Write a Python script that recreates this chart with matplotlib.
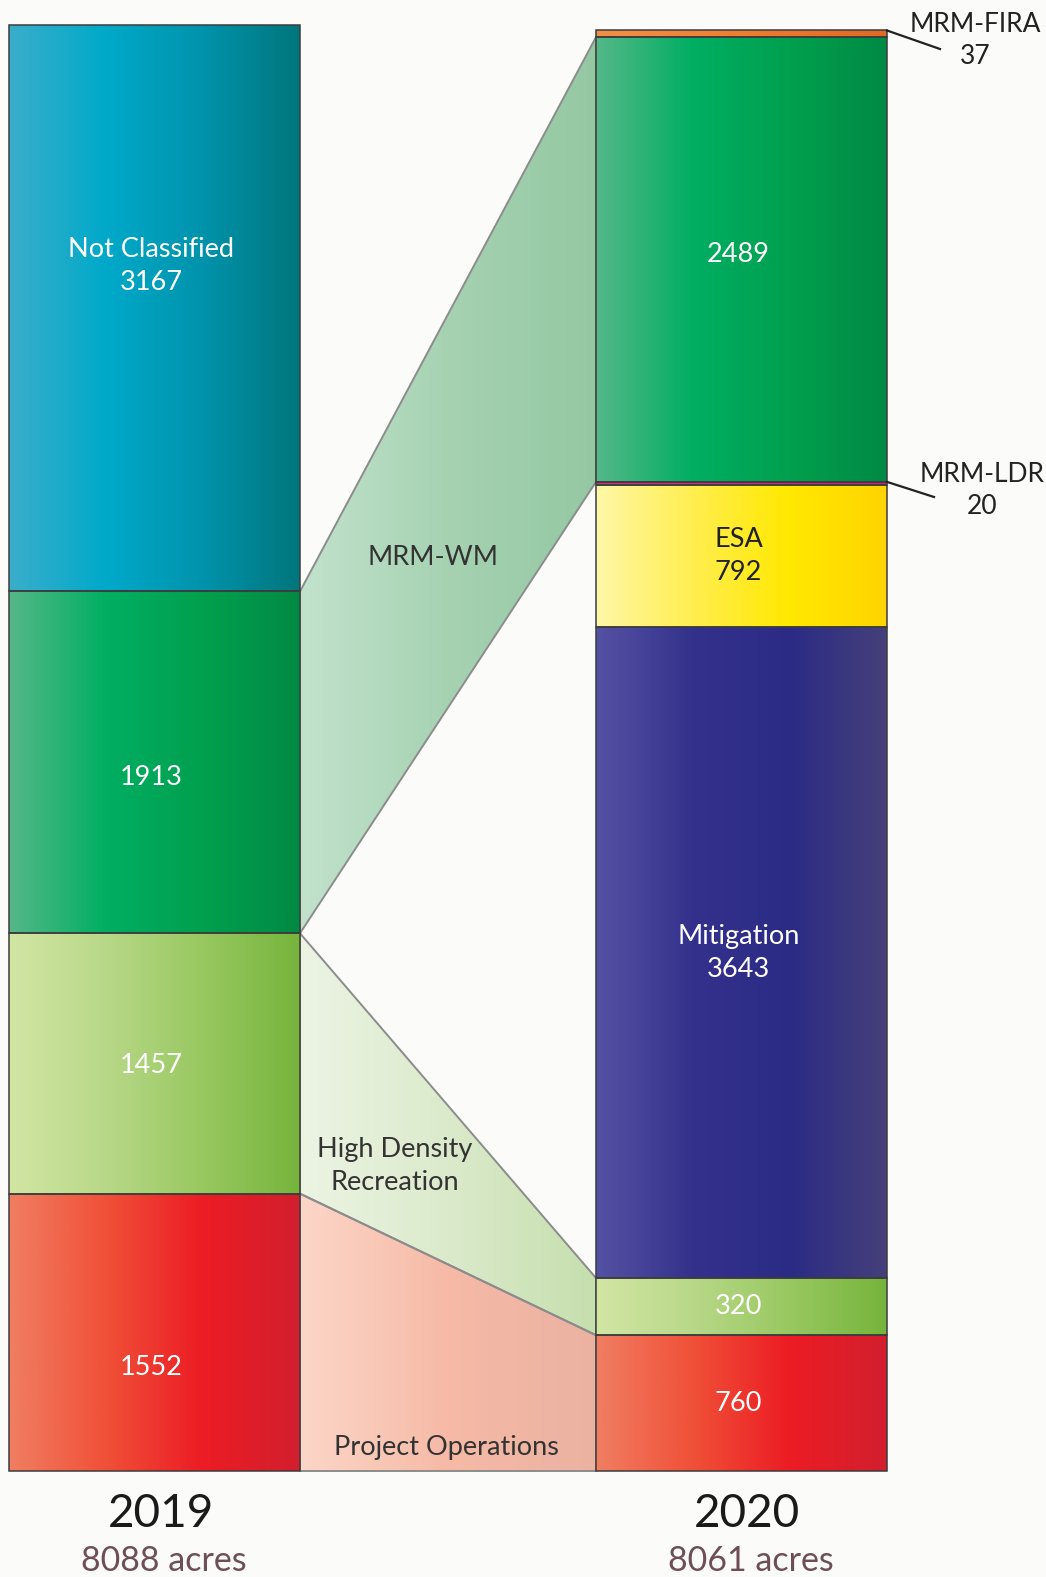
import numpy as np
import matplotlib.pyplot as plt
from matplotlib.colors import LinearSegmentedColormap
from matplotlib.patches import Polygon, Rectangle

plt.rcParams['font.family'] = ['Lato', 'DejaVu Sans']

# data
cats_2019 = ['Project Operations', 'High Density Recreation', 'MRM-WM', 'Not Classified']
acres_2019 = [1552, 1457, 1913, 3167]
cats_2020 = ['Project Operations', 'High Density Recreation', 'Mitigation', 'ESA',
             'MRM-LDR', 'MRM-WM', 'MRM-FIRA']
acres_2020 = [760, 320, 3643, 792, 20, 2489, 37]
total_2019 = 8088
total_2020 = 8061
years = ['2019', '2020']

# gradient stops (left -> right) per category
grad = {
    'Not Classified': ['#3aaecb', '#00a9c9', '#0093ac', '#00767c'],
    'MRM-WM': ['#55b888', '#00ae62', '#00a04e', '#008a45'],
    'High Density Recreation': ['#d2e6a4', '#b8d888', '#98c860', '#76b43c'],
    'Project Operations': ['#f07e62', '#f05038', '#ec1c24', '#d21f2e'],
    'MRM-FIRA': ['#f29048', '#ee7e30', '#e06a24'],
    'MRM-LDR': ['#e8288e', '#d81a80'],
    'ESA': ['#fff7a8', '#ffee50', '#ffe800', '#ffd400'],
    'Mitigation': ['#5552a4', '#34318c', '#2b2b86', '#45407a'],
}
band_grad = {
    'MRM-WM': ['#c2e2cc', '#a6d2b2', '#94c8a2'],
    'High Density Recreation': ['#ecf4e4', '#dbeacb', '#c6dfae'],
    'Project Operations': ['#fcd6c8', '#f6baa6', '#ebb2a2'],
}
# label format, colour, vertical nudge (acres) per bar
txt = {
    ('2019', 'Not Classified'): ('Not Classified\n{}', 'white', 237),
    ('2019', 'MRM-WM'): ('{}', 'white', -85),
    ('2019', 'High Density Recreation'): ('{}', 'white', -10),
    ('2019', 'Project Operations'): ('{}', 'white', -195),
    ('2020', 'MRM-WM'): ('{}', 'white', 30),
    ('2020', 'High Density Recreation'): ('{}', 'white', 0),
    ('2020', 'Project Operations'): ('{}', 'white', 0),
    ('2020', 'ESA'): ('ESA\n{}', '#222222', 0),
    ('2020', 'Mitigation'): ('Mitigation\n{}', 'white', 0),
}

scale = 0.1787  # px per acre
base = 1471
W, H = 1046, 1577
fig = plt.figure(figsize=(W / 100, H / 100), dpi=100)
fig.patch.set_facecolor('#fbfbfa')
ax = fig.add_axes([0, 0, 1, 1])
ax.set_xlim(0, W)
ax.set_ylim(-(H - base) / scale, base / scale)
ax.axis('off')

bars = {'2019': (9, 300), '2020': (596, 887)}
grad_arr = np.linspace(0, 1, 256).reshape(1, -1)
FS = 19.5
LS = 1.4


def py(p):
    return (base - p) / scale


def gradient_fill(stops, x0, x1, y0, y1, clip=None, z=1):
    cmap = LinearSegmentedColormap.from_list('g', stops)
    im = ax.imshow(grad_arr, cmap=cmap, extent=[x0, x1, y0, y1], aspect='auto',
                   interpolation='bicubic', zorder=z)
    if clip is not None:
        im.set_clip_path(clip)


def stack(cats, vals, x0, x1, key):
    bottoms = np.concatenate([[0], np.cumsum(vals)[:-1]])
    segs = {}
    for c, v, b in zip(cats, vals, bottoms):
        gradient_fill(grad[c], x0, x1, b, b + v, z=2)
        ax.add_patch(Rectangle((x0, b), x1 - x0, v, fill=False, ec='#3c3c3c', lw=1.1, zorder=3))
        segs[c] = (b, b + v)
        if (key, c) in txt:
            fmt, col, off = txt[(key, c)]
            ax.text((x0 + x1) / 2 - 3, b + v / 2 + off, fmt.format(v), ha='center', va='center',
                    color=col, fontsize=FS, linespacing=LS, zorder=4)
    return segs


s19 = stack(cats_2019, acres_2019, *bars['2019'], '2019')
s20 = stack(cats_2020, acres_2020, *bars['2020'], '2020')

# connecting bands
xl, xr = bars['2019'][1], bars['2020'][0]
for c in ['Project Operations', 'High Density Recreation', 'MRM-WM']:
    (a0, a1), (b0, b1) = s19[c], s20[c]
    poly = Polygon([(xl, a0), (xr, b0), (xr, b1), (xl, a1)], closed=True,
                   fc='none', ec='#8c8c8c', lw=1.4, zorder=1.5)
    ax.add_patch(poly)
    gradient_fill(band_grad[c], xl, xr, min(a0, b0), max(a1, b1), clip=poly, z=1)

ax.text(433, py(557), 'MRM-WM', ha='center', va='center', fontsize=FS, color='#333333', zorder=4)
ax.text(395, py(1166), 'High Density\nRecreation', ha='center', va='center',
        fontsize=FS, color='#333333', linespacing=LS, zorder=4)
ax.text(446, py(1447), 'Project Operations', ha='center', va='center',
        fontsize=FS, color='#333333', zorder=4)

# callouts for the thin segments
x1r = bars['2020'][1]
for c, lx, ly, tx, ty in [('MRM-FIRA', 940, 49, 975, 40), ('MRM-LDR', 934, 497, 982, 490)]:
    b0, b1 = s20[c]
    ax.plot([x1r, lx], [b1, py(ly)], color='#222222', lw=1.6, zorder=4)
    ax.text(tx, py(ty), '{}\n{}'.format(c, acres_2020[cats_2020.index(c)]),
            ha='center', va='center', fontsize=19, color='#222222', linespacing=1.35)

# year labels
for yr, tot, (x0, x1) in zip(years, [total_2019, total_2020], bars.values()):
    cx = (x0 + x1) / 2 + 6
    ax.text(cx, py(1514), yr, ha='center', va='center', fontsize=33, color='#1a1a1a')
    ax.text(cx + 3, py(1561), '{} acres'.format(tot), ha='center', va='center',
            fontsize=24.5, color='#6e4f58')

fig.savefig('out.png', dpi=100, facecolor=fig.get_facecolor())
